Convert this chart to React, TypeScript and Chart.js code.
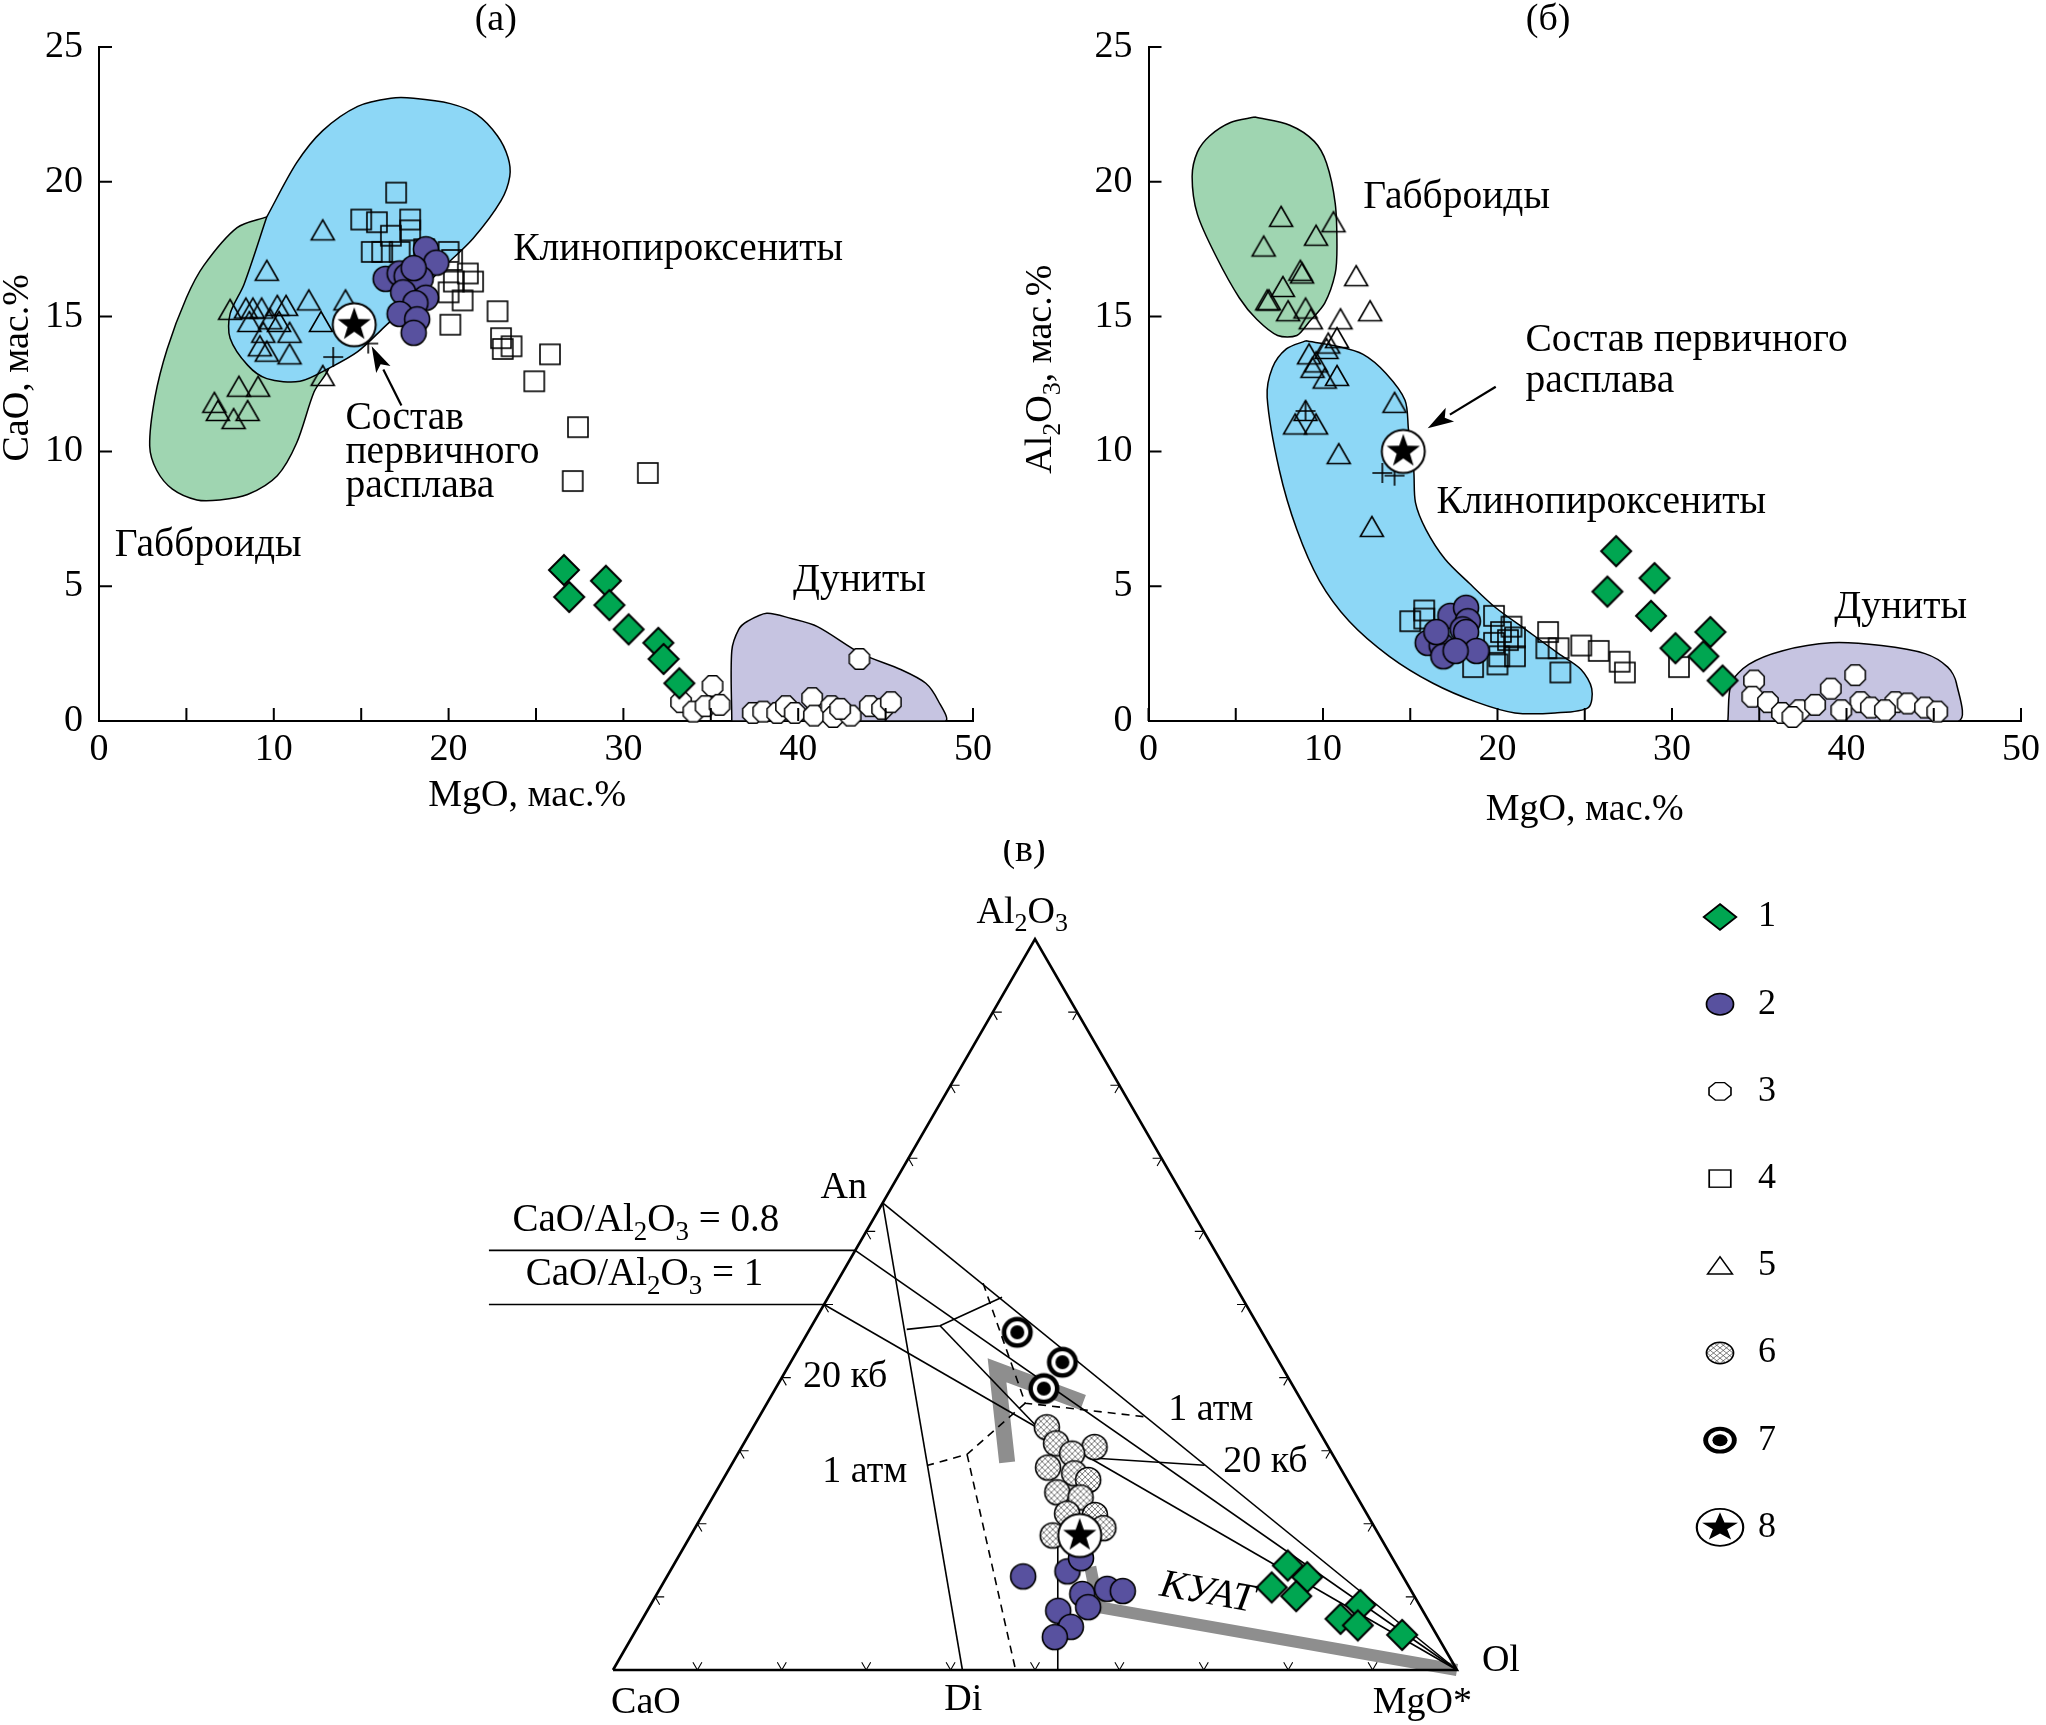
import React, { useEffect, useRef } from 'react';
import { Chart, registerables } from 'chart.js';

Chart.register(...registerables);

const SERIF = "'Liberation Serif', 'Times New Roman', Times, serif";
const GREEN = '#00a651';
const PURPLE = '#58519f';
const GRAY = '#8e8e8e';
const FILL_GABBRO = '#9fd5b1';
const FILL_CLINO = '#8dd7f6';
const FILL_DUNITE = '#c6c4e1';

// ---------- axis tick labels ----------
const xTickLabels = [0, 10, 20, 30, 40, 50];
const yTickLabels = [0, 5, 10, 15, 20, 25];

// ---------- panel (а): [MgO, CaO] wt.% ----------
const aDiamonds = [[26.6, 5.6], [26.9, 4.6], [29.0, 5.2], [29.2, 4.3], [30.3, 3.4], [32.0, 2.9], [32.3, 2.3], [33.2, 1.4]];
const aCircles = [[18.7, 17.5], [19.3, 17.0], [16.4, 16.4], [17.2, 16.6], [17.6, 16.5], [18.4, 16.4], [17.4, 15.9], [18.7, 15.7], [18.1, 15.5], [17.2, 15.1], [18.2, 14.9], [18.0, 14.4], [18.0, 16.8]];
const aOctagons = [[35.1, 1.3], [33.3, 0.7], [34.0, 0.35], [34.7, 0.55], [35.5, 0.6], [37.4, 0.3], [38.0, 0.35], [38.8, 0.3], [39.3, 0.55], [39.8, 0.3], [40.8, 0.85], [40.9, 0.2], [41.9, 0.55], [42.0, 0.15], [43.0, 0.2], [43.5, 2.3], [44.1, 0.55], [44.8, 0.45], [45.3, 0.7], [42.4, 0.45]];
const aSquares = [[17.0, 19.6], [15.0, 18.6], [15.9, 18.5], [17.8, 18.6], [17.8, 18.2], [16.7, 18.0], [15.6, 17.4], [16.2, 17.4], [17.2, 17.4], [18.6, 17.5], [20.0, 17.4], [20.2, 17.1], [21.1, 16.6], [21.4, 16.3], [20.3, 16.3], [20.0, 15.9], [20.8, 15.6], [20.1, 14.7], [22.8, 15.2], [23.0, 14.2], [23.6, 13.9], [23.1, 13.8], [25.8, 13.6], [24.9, 12.6], [27.4, 10.9], [27.1, 8.9], [31.4, 9.2]];
const aTriangles = [[12.8, 18.2], [9.6, 16.7], [7.5, 15.25], [8.4, 15.3], [8.8, 15.3], [9.3, 15.3], [10.2, 15.4], [10.7, 15.4], [12.0, 15.6], [14.1, 15.6], [8.6, 14.8], [9.8, 14.9], [10.3, 14.8], [10.9, 14.4], [12.7, 14.8], [9.4, 14.4], [9.2, 13.9], [9.6, 13.7], [10.9, 13.6], [12.8, 12.8], [8.0, 12.4], [9.1, 12.4], [6.6, 11.8], [6.8, 11.5], [8.5, 11.5], [7.7, 11.2]];
const aCrosses = [[13.4, 13.5], [15.4, 14.0]];
const aStar = [[14.6, 14.7]];
const aGabbro = [[9.6, 18.7], [7.9, 18.3], [6.0, 16.9], [5.0, 15.7], [3.9, 13.8], [3.2, 12.0], [2.9, 10.2], [3.3, 9.3], [4.2, 8.6], [5.6, 8.2], [6.9, 8.2], [8.5, 8.4], [10.2, 9.1], [11.3, 10.3], [12.3, 12.2], [13.2, 13.3], [11.5, 16.3], [10.4, 18.2], [9.6, 18.7]];
const aClino = [[9.6, 18.7], [11.3, 20.7], [12.8, 21.9], [14.8, 22.8], [16.7, 23.1], [18.0, 23.1], [20.1, 22.9], [21.6, 22.5], [22.8, 21.7], [23.4, 20.9], [23.5, 20.2], [23.0, 19.3], [21.4, 17.9], [19.5, 16.7], [17.6, 15.4], [16.3, 14.6], [14.8, 13.7], [13.2, 13.1], [11.5, 12.6], [9.6, 12.7], [8.5, 13.2], [7.5, 14.2], [7.5, 15.1], [8.3, 16.2], [9.6, 18.7]];
const aDunite = [[36.2, 0], [36.2, 2.6], [36.6, 3.4], [37.1, 3.7], [38.2, 4.0], [39.6, 3.8], [41.1, 3.5], [43.6, 2.5], [45.9, 1.9], [47.3, 1.4], [48.0, 0.76], [48.4, 0], [36.2, 0]];

// ---------- panel (б): [MgO, Al2O3] wt.% ----------
const bDiamonds = [[26.8, 6.3], [29.0, 5.3], [26.3, 4.8], [28.8, 3.9], [32.2, 3.3], [30.2, 2.7], [31.8, 2.4], [32.9, 1.5]];
const bCircles = [[17.3, 3.9], [18.2, 4.2], [18.3, 3.7], [18.0, 3.4], [16.0, 2.9], [16.8, 2.8], [16.9, 2.4], [18.2, 3.3], [18.8, 2.6], [17.6, 2.6], [16.5, 3.3]];
const bOctagons = [[34.7, 1.5], [34.6, 0.9], [35.5, 0.7], [36.3, 0.3], [37.3, 0.4], [38.2, 0.6], [39.1, 1.2], [40.5, 1.7], [40.8, 0.7], [41.4, 0.5], [42.8, 0.7], [43.5, 0.65], [44.5, 0.5], [45.2, 0.35], [39.7, 0.4], [42.2, 0.4], [36.9, 0.15]];
const bSquares = [[15.0, 3.7], [15.8, 4.1], [15.8, 3.8], [19.8, 3.9], [20.2, 3.3], [20.8, 3.5], [19.8, 2.9], [20.6, 3.0], [21.0, 3.1], [20.1, 2.4], [21.0, 2.4], [20.0, 2.1], [18.6, 2.0], [22.9, 3.3], [22.8, 2.7], [23.5, 2.7], [23.6, 1.8], [24.8, 2.8], [25.8, 2.6], [27.0, 2.2], [27.3, 1.8], [30.4, 2.0]];
const bTriangles = [[7.6, 18.7], [10.6, 18.5], [6.6, 17.6], [9.6, 18.0], [8.7, 16.7], [8.8, 16.6], [11.9, 16.5], [7.7, 16.1], [6.8, 15.6], [6.9, 15.6], [8.0, 15.2], [9.0, 15.3], [9.3, 14.9], [12.7, 15.2], [11.0, 14.9], [10.8, 14.2], [10.3, 14.0], [10.2, 13.8], [9.2, 13.6], [9.6, 13.3], [9.4, 13.1], [10.8, 12.8], [10.1, 12.7], [14.1, 11.8], [9.0, 11.5], [8.4, 11.0], [9.6, 11.0], [10.9, 9.9], [12.8, 7.2]];
const bCrosses = [[9.0, 11.5], [13.4, 9.2], [14.1, 9.1]];
const bStar = [[14.6, 10.0]];
const bGabbro = [[6.1, 22.4], [8.1, 22.1], [9.5, 21.5], [10.2, 20.7], [10.7, 19.2], [10.8, 17.6], [10.7, 16.6], [10.1, 15.5], [9.2, 14.8], [8.5, 14.3], [7.4, 14.3], [6.2, 14.9], [5.2, 15.7], [3.9, 17.2], [2.8, 18.8], [2.5, 20.2], [2.8, 21.1], [3.5, 21.7], [4.7, 22.2], [6.1, 22.4]];
const bClino = [[9.0, 14.1], [10.8, 13.9], [12.3, 13.6], [13.6, 12.9], [14.7, 11.9], [14.9, 10.8], [15.2, 9.3], [15.3, 8.1], [15.9, 7.1], [17.0, 6.0], [18.4, 5.1], [19.9, 4.2], [21.6, 3.4], [23.5, 2.5], [24.8, 1.9], [25.4, 1.2], [25.2, 0.5], [23.3, 0.3], [21.0, 0.3], [18.8, 0.7], [16.3, 1.4], [13.8, 2.4], [11.5, 3.7], [9.8, 5.2], [8.5, 7.1], [7.5, 9.3], [6.8, 12.0], [7.1, 13.1], [7.9, 13.8], [9.0, 14.1]];
const bDunite = [[33.2, 0], [33.4, 1.4], [34.4, 2.1], [36.3, 2.6], [39.1, 2.9], [42.0, 2.8], [44.5, 2.5], [45.8, 2.0], [46.3, 1.4], [46.4, 0], [33.2, 0]];

// ---------- panel (в): ternary [CaO, MgO*, Al2O3] ----------
const tDiamonds = [[12.9, 72.8, 14.3], [11.4, 75.9, 12.7], [16.3, 72.4, 11.3], [14.0, 75.9, 10.1], [7.0, 84.1, 8.9], [10.3, 82.7, 7.0], [8.7, 85.2, 6.1], [4.1, 91.1, 4.8]];
const tCircles = [[45.0, 42.2, 12.8], [39.4, 47.1, 13.5], [36.9, 47.8, 15.3], [39.2, 50.4, 10.4], [39.4, 52.0, 8.6], [35.9, 53.0, 11.1], [34.2, 55.0, 10.8], [43.2, 48.7, 8.1], [42.8, 51.3, 5.9], [45.4, 50.1, 4.5]];
const tHatched = [[32.0, 34.8, 33.2], [32.0, 37.0, 31.0], [27.7, 41.8, 30.5], [30.8, 39.6, 29.6], [34.6, 37.7, 27.7], [31.9, 41.2, 26.9], [30.7, 43.3, 26.0], [35.2, 40.5, 24.3], [32.8, 43.6, 23.6], [35.5, 43.1, 21.4], [32.3, 46.5, 21.2], [32.2, 48.4, 19.4], [38.7, 42.9, 18.4]];
const tBullseye = [[29.0, 24.8, 46.2], [25.7, 32.2, 42.1], [29.7, 31.8, 38.5]];
const tStar = [[35.5, 46.1, 18.4]];
// phase-diagram lines
const tCorners = [[100, 0, 0], [0, 100, 0], [0, 0, 100], [100, 0, 0]];
const tAnDi = [[36.1, 0, 63.9], [58.6, 41.4, 0]];
const tAnOl = [[36.1, 0, 63.9], [0, 100, 0]];
const tR08Ol = [[42.6, 0, 57.4], [0, 100, 0]];
const tR10Ol = [[50, 0, 50], [0, 100, 0]];
const tR08 = [42.6, 0, 57.4];
const tR10 = [50, 0, 50];
const tKink = [[41.9, 11.5, 46.6], [37.7, 15.2, 47.1], [35.1, 16.7, 48.2], [28.4, 20.6, 51.0]];
const tKinkBranch = [[37.7, 15.2, 47.1], [33.0, 34.1, 32.9]];
const t20kb = [[28.7, 42.3, 29.0], [15.9, 56.1, 28.0]];
const tVertical = [[38.3, 43.7, 18.0], [47.3, 52.7, 0]];
const tDash1 = [[29.7, 17.4, 52.9], [32.9, 30.6, 36.5], [19.4, 46.0, 34.6]];
const tDash2 = [[32.9, 30.6, 36.5], [43.3, 27.2, 29.5], [48.7, 23.3, 28.0]];
const tDash3 = [[43.3, 27.2, 29.5], [52.3, 47.7, 0]];
const tGray1 = [[39.1, 32.5, 28.4], [34.0, 25.0, 41.0], [26.0, 37.4, 36.6]];
const tGray2 = [[0, 100, 0], [38.2, 53.2, 8.6], [36.4, 49.5, 14.1]];
const tTickSteps = [10, 20, 30, 40, 50, 60, 70, 80, 90];
const ratioLineLeftX = -0.147;

const legendLabels = ['1', '2', '3', '4', '5', '6', '7', '8'];
const legendTypes = ['diamond', 'circle', 'octagon', 'square', 'triangle', 'hatch', 'bullseye', 'star'];

// ---------- helpers ----------
type Seg = [string, boolean?];
const S3 = Math.sqrt(3) / 2;
const tern = (p: number[]) => ({ x: (p[1] + p[2] / 2) / 100, y: (p[2] / 100) * S3 });
const pts = (arr: number[][]) => arr.map(([x, y]) => ({ x, y }));
const sub = (t: string): Seg => [t, true];
const AL2O3: Seg[] = [['Al'], sub('2'), ['O'], sub('3')];

function drawShape(ctx: CanvasRenderingContext2D, type: string) {
  ctx.strokeStyle = '#000';
  ctx.lineJoin = 'miter';
  const circ = (r: number) => { ctx.beginPath(); ctx.arc(0, 0, r, 0, Math.PI * 2); };
  switch (type) {
    case 'diamond':
      ctx.beginPath(); ctx.moveTo(0, -15); ctx.lineTo(15, 0); ctx.lineTo(0, 15); ctx.lineTo(-15, 0); ctx.closePath();
      ctx.fillStyle = GREEN; ctx.fill(); ctx.lineWidth = 2; ctx.stroke(); break;
    case 'circle':
      circ(12.5); ctx.fillStyle = PURPLE; ctx.fill(); ctx.lineWidth = 1.6; ctx.stroke(); break;
    case 'octagon':
      ctx.beginPath();
      for (let i = 0; i < 8; i++) {
        const a = Math.PI / 8 + (i * Math.PI) / 4;
        const px = 11 * Math.cos(a), py = 11 * Math.sin(a);
        if (i) ctx.lineTo(px, py); else ctx.moveTo(px, py);
      }
      ctx.closePath(); ctx.fillStyle = '#fff'; ctx.fill(); ctx.lineWidth = 1.5; ctx.stroke(); break;
    case 'square':
      ctx.lineWidth = 1.6; ctx.strokeRect(-10, -10, 20, 20); break;
    case 'triangle':
      ctx.beginPath(); ctx.moveTo(0, -10.5); ctx.lineTo(11.5, 9.5); ctx.lineTo(-11.5, 9.5); ctx.closePath();
      ctx.lineWidth = 1.6; ctx.stroke(); break;
    case 'cross':
      ctx.beginPath(); ctx.moveTo(-10, 0); ctx.lineTo(10, 0); ctx.moveTo(0, -10); ctx.lineTo(0, 10);
      ctx.lineWidth = 1.6; ctx.stroke(); break;
    case 'hatch':
      ctx.save(); circ(12.5); ctx.fillStyle = '#fff'; ctx.fill(); ctx.clip();
      ctx.strokeStyle = '#444'; ctx.lineWidth = 0.7; ctx.beginPath();
      for (let k = -36; k <= 36; k += 6) {
        ctx.moveTo(k - 20, -20); ctx.lineTo(k + 20, 20);
        ctx.moveTo(k + 20, -20); ctx.lineTo(k - 20, 20);
      }
      ctx.stroke(); ctx.restore();
      circ(12.5); ctx.lineWidth = 1.6; ctx.strokeStyle = '#000'; ctx.stroke(); break;
    case 'bullseye':
      circ(15.5); ctx.fillStyle = '#000'; ctx.fill();
      circ(11); ctx.fillStyle = '#fff'; ctx.fill();
      circ(7); ctx.fillStyle = '#000'; ctx.fill(); break;
    case 'star':
      circ(21.5); ctx.fillStyle = '#fff'; ctx.fill(); ctx.lineWidth = 2; ctx.stroke();
      ctx.beginPath();
      for (let i = 0; i < 10; i++) {
        const r = i % 2 ? 7 : 17.5;
        const a = -Math.PI / 2 + (i * Math.PI) / 5;
        const px = r * Math.cos(a), py = r * Math.sin(a);
        if (i) ctx.lineTo(px, py); else ctx.moveTo(px, py);
      }
      ctx.closePath(); ctx.fillStyle = '#000'; ctx.fill(); break;
  }
}

const markerCache: Record<string, HTMLCanvasElement> = {};
function marker(type: string): HTMLCanvasElement {
  if (markerCache[type]) return markerCache[type];
  const c = document.createElement('canvas');
  c.width = 54; c.height = 54;
  const ctx = c.getContext('2d')!;
  ctx.translate(27, 27);
  drawShape(ctx, type);
  markerCache[type] = c;
  return c;
}

function drawRich(ctx: CanvasRenderingContext2D, segs: Seg[], x: number, y: number, size: number, align: string, style = '') {
  const main = `${style}${size}px ${SERIF}`;
  const small = `${style}${Math.round(size * 0.68)}px ${SERIF}`;
  let w = 0;
  for (const [t, s] of segs) { ctx.font = s ? small : main; w += ctx.measureText(t).width; }
  let cx = align === 'left' ? x : align === 'center' ? x - w / 2 : x - w;
  ctx.textBaseline = 'middle';
  ctx.textAlign = 'left';
  ctx.fillStyle = '#000';
  for (const [t, s] of segs) {
    ctx.font = s ? small : main;
    ctx.fillText(t, cx, s ? y + size * 0.3 : y);
    cx += ctx.measureText(t).width;
  }
}

function drawArrow(ctx: CanvasRenderingContext2D, x0: number, y0: number, x1: number, y1: number) {
  const ang = Math.atan2(y1 - y0, x1 - x0);
  const len = 26, hw = 8;
  const bx = x1 - Math.cos(ang) * len, by = y1 - Math.sin(ang) * len;
  ctx.beginPath(); ctx.moveTo(x0, y0); ctx.lineTo(bx, by);
  ctx.strokeStyle = '#000'; ctx.lineWidth = 2.2; ctx.stroke();
  ctx.beginPath(); ctx.moveTo(x1, y1);
  ctx.lineTo(bx + Math.sin(ang) * hw, by - Math.cos(ang) * hw);
  ctx.lineTo(bx + Math.cos(ang) * 6, by + Math.sin(ang) * 6);
  ctx.lineTo(bx - Math.sin(ang) * hw, by + Math.cos(ang) * hw);
  ctx.closePath(); ctx.fillStyle = '#000'; ctx.fill();
}

type Label = { segs: Seg[]; x: number; y: number; align: string };
type Decor = {
  labels: Label[];
  arrow: number[][];
  title: Label;
  xTitle: Seg[]; xTitleX: number; xTitleDy: number;
  yTitle: Seg[]; yTitleY: number; yTitleDx: number;
};

function decorPlugin(d: Decor) {
  return {
    id: 'decor',
    afterDraw(chart: any) {
      const { ctx, chartArea: area } = chart;
      const xs = chart.scales.x, ys = chart.scales.y;
      const X = (v: number) => xs.getPixelForValue(v);
      const Y = (v: number) => ys.getPixelForValue(v);
      ctx.save();
      ctx.strokeStyle = '#000'; ctx.lineWidth = 2;
      ctx.beginPath();
      xs.ticks.forEach((t: any) => { const px = X(t.value); ctx.moveTo(px, area.bottom); ctx.lineTo(px, area.bottom - 13); });
      ys.ticks.forEach((t: any) => { const py = Y(t.value); ctx.moveTo(area.left, py); ctx.lineTo(area.left + 13, py); });
      ctx.stroke();
      for (const l of d.labels) drawRich(ctx, l.segs, X(l.x), Y(l.y), 39.5, l.align);
      drawRich(ctx, d.title.segs, X(d.title.x), Y(d.title.y), 38, 'center');
      drawArrow(ctx, X(d.arrow[0][0]), Y(d.arrow[0][1]), X(d.arrow[1][0]), Y(d.arrow[1][1]));
      drawRich(ctx, d.xTitle, X(d.xTitleX), area.bottom + d.xTitleDy, 38, 'center');
      ctx.save();
      ctx.translate(area.left - d.yTitleDx, Y(d.yTitleY));
      ctx.rotate(-Math.PI / 2);
      drawRich(ctx, d.yTitle, 0, 0, 38, 'center');
      ctx.restore();
      ctx.restore();
    },
  };
}

const region = (arr: number[][], color: string, order: number) => ({
  type: 'line', data: pts(arr), borderColor: '#000', borderWidth: 1.5, backgroundColor: color,
  fill: 'shape', tension: 0.3, pointRadius: 0, clip: false, order,
});
const marks = (data: any[], type: string, order: number) => ({
  type: 'scatter', data, pointStyle: marker(type), pointRadius: 12, clip: false, order,
});

function panelChart(canvas: HTMLCanvasElement, datasets: any[], yWidth: number, padRight: number, decor: Decor) {
  const tickFont = { family: SERIF, size: 38 };
  return new Chart(canvas, {
    type: 'scatter',
    data: { datasets },
    options: {
      responsive: false, animation: false, devicePixelRatio: 1, events: [],
      layout: { padding: { left: 0, top: 47, right: padRight, bottom: 0 } },
      plugins: { legend: { display: false }, tooltip: { enabled: false } },
      scales: {
        x: {
          type: 'linear', min: 0, max: 50,
          afterFit: (s: any) => { s.height = 109; },
          ticks: { stepSize: 5, autoSkip: false, maxRotation: 0, padding: 6, color: '#000', font: tickFont,
            callback: (v: any) => (xTickLabels.includes(v) ? String(v) : '') },
          grid: { display: false, drawTicks: false },
          border: { display: true, color: '#000', width: 2 },
        },
        y: {
          type: 'linear', min: 0, max: 25,
          afterFit: (s: any) => { s.width = yWidth; },
          ticks: { stepSize: 5, autoSkip: false, padding: 16, color: '#000', font: tickFont,
            callback: (v: any) => (yTickLabels.includes(v) ? String(v) : '') },
          grid: { display: false, drawTicks: false },
          border: { display: true, color: '#000', width: 2 },
        },
      },
    } as any,
    plugins: [decorPlugin(decor)],
  });
}

function makeA(canvas: HTMLCanvasElement) {
  const datasets = [
    region(aGabbro, FILL_GABBRO, 30),
    region(aClino, FILL_CLINO, 29),
    region(aDunite, FILL_DUNITE, 28),
    marks(pts(aTriangles), 'triangle', 10),
    marks(pts(aSquares), 'square', 9),
    marks(pts(aOctagons), 'octagon', 8),
    marks(pts(aDiamonds), 'diamond', 7),
    marks(pts(aCircles), 'circle', 6),
    marks(pts(aCrosses), 'cross', 5),
    marks(pts(aStar), 'star', 4),
  ];
  return panelChart(canvas, datasets, 99, 27, {
    labels: [
      { segs: [['Габброиды']], x: 0.9, y: 6.5, align: 'left' },
      { segs: [['Клинопироксениты']], x: 23.7, y: 17.5, align: 'left' },
      { segs: [['Дуниты']], x: 39.7, y: 5.2, align: 'left' },
      { segs: [['Состав']], x: 14.1, y: 11.2, align: 'left' },
      { segs: [['первичного']], x: 14.1, y: 9.95, align: 'left' },
      { segs: [['расплава']], x: 14.1, y: 8.7, align: 'left' },
    ],
    arrow: [[17.3, 11.7], [15.6, 13.9]],
    title: { segs: [['(а)']], x: 22.7, y: 26.0, align: 'center' },
    xTitle: [['MgO, мас.%']], xTitleX: 24.5, xTitleDy: 75,
    yTitle: [['CaO, мас.%']], yTitleY: 13.1, yTitleDx: 81,
  });
}

function makeB(canvas: HTMLCanvasElement) {
  const datasets = [
    region(bGabbro, FILL_GABBRO, 30),
    region(bClino, FILL_CLINO, 29),
    region(bDunite, FILL_DUNITE, 28),
    marks(pts(bTriangles), 'triangle', 10),
    marks(pts(bSquares), 'square', 9),
    marks(pts(bOctagons), 'octagon', 8),
    marks(pts(bDiamonds), 'diamond', 7),
    marks(pts(bCircles), 'circle', 6),
    marks(pts(bCrosses), 'cross', 5),
    marks(pts(bStar), 'star', 4),
  ];
  return panelChart(canvas, datasets, 143.5, 23, {
    labels: [
      { segs: [['Габброиды']], x: 12.3, y: 19.4, align: 'left' },
      { segs: [['Состав первичного']], x: 21.6, y: 14.1, align: 'left' },
      { segs: [['расплава']], x: 21.6, y: 12.6, align: 'left' },
      { segs: [['Клинопироксениты']], x: 16.5, y: 8.1, align: 'left' },
      { segs: [['Дуниты']], x: 39.3, y: 4.2, align: 'left' },
    ],
    arrow: [[19.9, 12.4], [16.0, 10.86]],
    title: { segs: [['(б)']], x: 22.9, y: 26.0, align: 'center' },
    xTitle: [['MgO, мас.%']], xTitleX: 25.0, xTitleDy: 89,
    yTitle: [...AL2O3, [', мас.%']], yTitleY: 13.05, yTitleDx: 107,
  });
}

const ternLabels: { segs: Seg[]; x: number; y: number; align: string; italic?: boolean; rot?: number; size?: number }[] = [
  { segs: [['(в)']], x: 0.487, y: 0.970, align: 'center' },
  { segs: AL2O3, x: 0.485, y: 0.897, align: 'center' },
  { segs: [['An']], x: 0.301, y: 0.571, align: 'right' },
  { segs: [['CaO/Al'], sub('2'), ['O'], sub('3'), [' = 0.8']], x: 0.197, y: 0.532, align: 'right', size: 39 },
  { segs: [['CaO/Al'], sub('2'), ['O'], sub('3'), [' = 1']], x: 0.178, y: 0.468, align: 'right', size: 39 },
  { segs: [['20 кб']], x: 0.225, y: 0.347, align: 'left' },
  { segs: [['1 атм']], x: 0.248, y: 0.235, align: 'left' },
  { segs: [['1 атм']], x: 0.658, y: 0.308, align: 'left' },
  { segs: [['20 кб']], x: 0.723, y: 0.246, align: 'left' },
  { segs: [['КУАТ']], x: 0.704, y: 0.091, align: 'center', italic: true, rot: 10, size: 40 },
  { segs: [['CaO']], x: 0.039, y: -0.039, align: 'center' },
  { segs: [['Di']], x: 0.415, y: -0.036, align: 'center' },
  { segs: [['MgO*']], x: 0.959, y: -0.039, align: 'center' },
  { segs: [['Ol']], x: 1.052, y: 0.011, align: 'center' },
];

function makeTernary(canvas: HTMLCanvasElement) {
  const line = (arr: number[][], extra: any = {}) => ({
    type: 'line', data: arr.map(tern), borderColor: '#000', borderWidth: 1.6, pointRadius: 0,
    fill: false, tension: 0, clip: false, order: 20, ...extra,
  });
  const hLine = (p: number[]) => ({
    type: 'line', data: [{ x: ratioLineLeftX, y: tern(p).y }, tern(p)], borderColor: '#000', borderWidth: 1.6,
    pointRadius: 0, fill: false, tension: 0, clip: false, order: 20,
  });
  const gray = (arr: number[][], w: number) => line(arr, { borderColor: GRAY, borderWidth: w, order: 40, borderCapStyle: 'butt', borderJoinStyle: 'miter' });
  const dash = (arr: number[][]) => line(arr, { borderDash: [8, 6], borderWidth: 1.6 });
  const datasets = [
    gray(tGray1, 16),
    gray(tGray2, 12),
    line(tCorners, { borderWidth: 2.6, order: 21 }),
    line(tAnDi), line(tAnOl), line(tR08Ol), line(tR10Ol),
    hLine(tR08), hLine(tR10),
    line(tKink), line(tKinkBranch), line(t20kb), line(tVertical),
    dash(tDash1), dash(tDash2), dash(tDash3),
    marks(tCircles.map(tern), 'circle', 10),
    marks(tHatched.map(tern), 'hatch', 9),
    marks(tBullseye.map(tern), 'bullseye', 8),
    marks(tDiamonds.map(tern), 'diamond', 7),
    marks(tStar.map(tern), 'star', 5),
  ];
  const plugin = {
    id: 'ternDecor',
    afterDatasetsDraw(chart: any) {
      const { ctx } = chart;
      const xs = chart.scales.x, ys = chart.scales.y;
      const P = (p: number[]) => { const c = tern(p); return [xs.getPixelForValue(c.x), ys.getPixelForValue(c.y)]; };
      const L = 9;
      ctx.save();
      ctx.strokeStyle = '#000'; ctx.lineWidth = 1.1;
      ctx.beginPath();
      const chev = (p: number[], d1: number[], d2: number[]) => {
        const [px, py] = P(p);
        ctx.moveTo(px + d1[0] * L, py + d1[1] * L); ctx.lineTo(px, py); ctx.lineTo(px + d2[0] * L, py + d2[1] * L);
      };
      for (const k of tTickSteps) {
        chev([100 - k, k, 0], [-0.5, -S3], [0.5, -S3]);
        chev([100 - k, 0, k], [1, 0], [0.5, S3]);
        chev([0, 100 - k, k], [-1, 0], [-0.5, S3]);
      }
      ctx.stroke();
      ctx.restore();
    },
    afterDraw(chart: any) {
      const { ctx, chartArea: area } = chart;
      const xs = chart.scales.x, ys = chart.scales.y;
      ctx.save();
      for (const l of ternLabels) {
        const px = xs.getPixelForValue(l.x), py = ys.getPixelForValue(l.y);
        const size = l.size || 38;
        if (l.rot) {
          ctx.save(); ctx.translate(px, py); ctx.rotate((l.rot * Math.PI) / 180);
          drawRich(ctx, l.segs, 0, 0, size, l.align, l.italic ? 'italic ' : '');
          ctx.restore();
        } else {
          drawRich(ctx, l.segs, px, py, size, l.align, l.italic ? 'italic ' : '');
        }
      }
      // legend
      const lx = area.right + 263;
      legendTypes.forEach((t, i) => {
        const ly = area.top - 22 + i * 87.2;
        ctx.save(); ctx.translate(lx, ly); ctx.scale(1.08, 0.86); drawShape(ctx, t); ctx.restore();
        drawRich(ctx, [[legendLabels[i]]], lx + 38, ly, 36, 'left');
      });
      ctx.restore();
    },
  };
  return new Chart(canvas, {
    type: 'scatter',
    data: { datasets },
    options: {
      responsive: false, animation: false, devicePixelRatio: 1, events: [],
      layout: { padding: { left: 613, right: 589, top: 99, bottom: 55 } },
      plugins: { legend: { display: false }, tooltip: { enabled: false } },
      scales: {
        x: { type: 'linear', min: 0, max: 1, display: false },
        y: { type: 'linear', min: 0, max: S3, display: false },
      },
    } as any,
    plugins: [plugin],
  });
}

export default function App() {
  const aRef = useRef<HTMLCanvasElement>(null);
  const bRef = useRef<HTMLCanvasElement>(null);
  const cRef = useRef<HTMLCanvasElement>(null);
  useEffect(() => {
    document.body.style.margin = '0';
    document.body.style.overflow = 'hidden';
    const charts = [makeA(aRef.current!), makeB(bRef.current!), makeTernary(cRef.current!)];
    return () => charts.forEach((c) => c.destroy());
  }, []);
  return (
    <div style={{ position: 'absolute', left: 0, top: 0, width: 2046, height: 1725, background: '#fff', overflow: 'hidden' }}>
      <canvas ref={aRef} width={1000} height={830} style={{ position: 'absolute', left: 0, top: 0, width: 1000, height: 830 }} />
      <canvas ref={bRef} width={1041} height={830} style={{ position: 'absolute', left: 1005, top: 0, width: 1041, height: 830 }} />
      <canvas ref={cRef} width={2046} height={885} style={{ position: 'absolute', left: 0, top: 840, width: 2046, height: 885 }} />
    </div>
  );
}
